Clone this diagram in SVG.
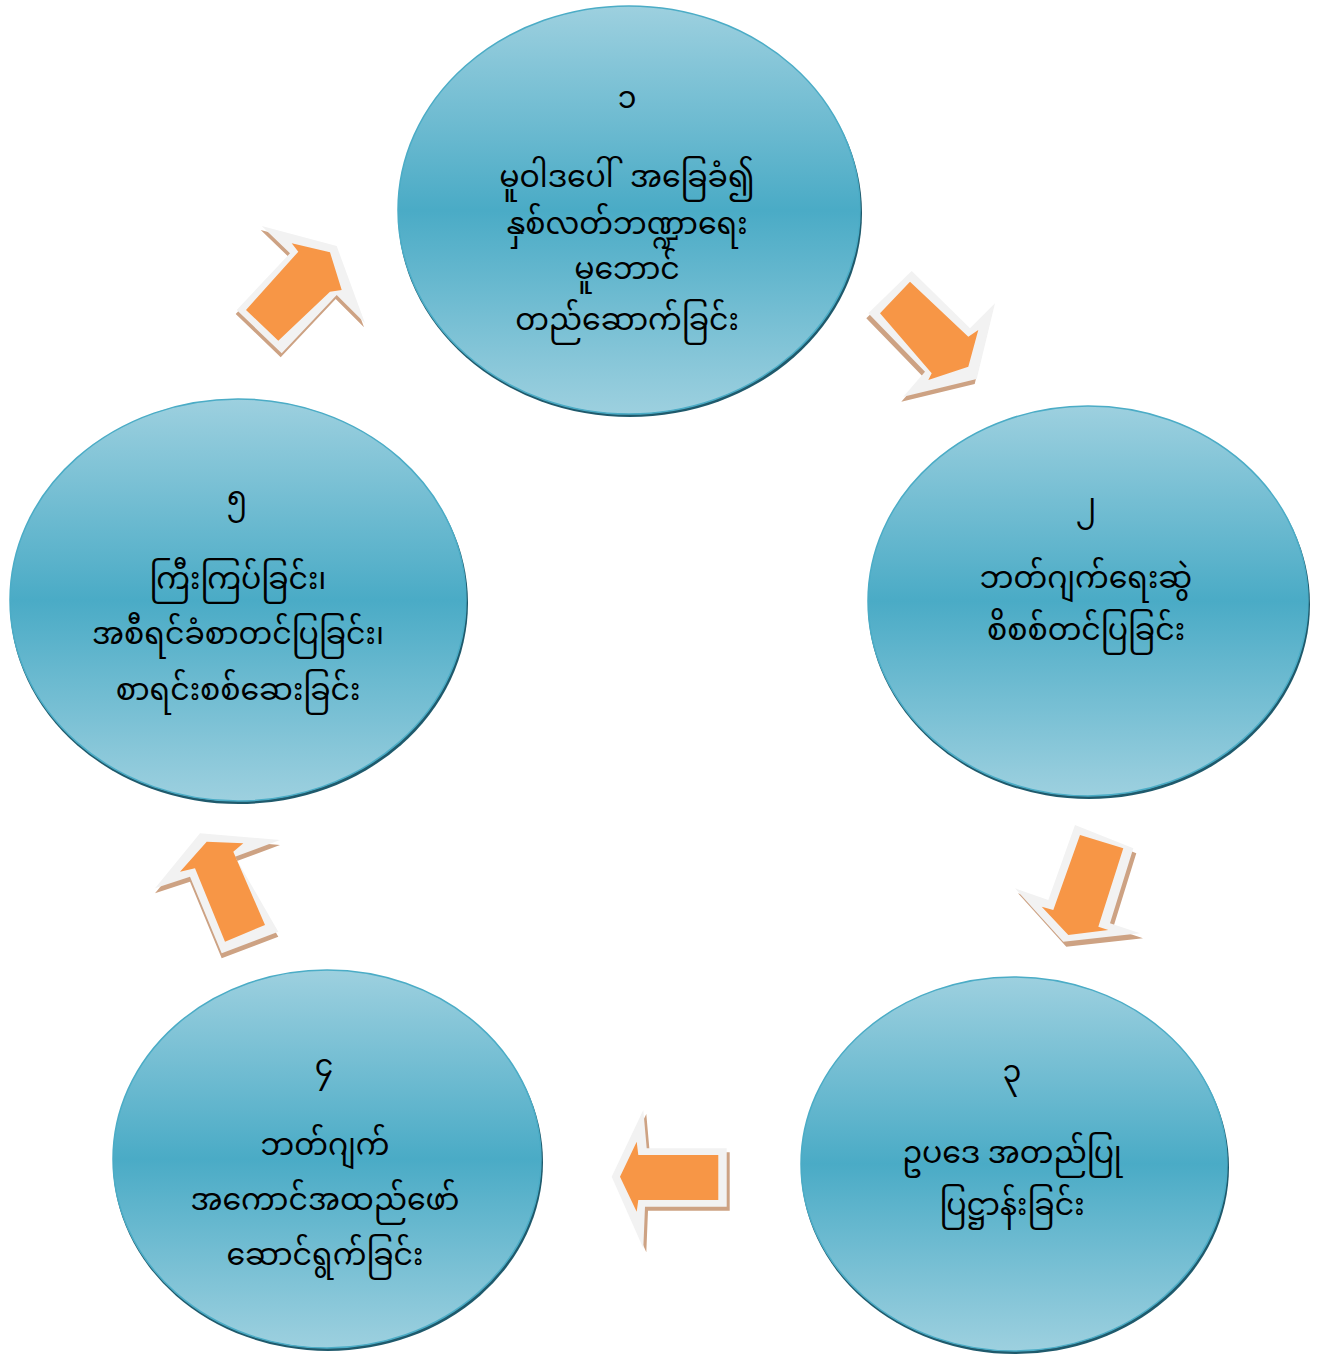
<svg xmlns="http://www.w3.org/2000/svg" width="1324" height="1355" viewBox="0 0 1324 1355">
<defs>
<linearGradient id="g" x1="0" y1="0" x2="0" y2="1">
<stop offset="0" stop-color="#9dd0df"/>
<stop offset="0.5" stop-color="#4aabc6"/>
<stop offset="1" stop-color="#9dd0df"/>
</linearGradient>
<style>
.sh{fill:#1f5a6c}
.el{fill:url(#g);stroke:#4bacc6;stroke-width:1.5}
.t{font-family:"Noto Sans Myanmar","Myanmar Text","Padauk","Noto Sans",sans-serif;font-size:30px;fill:#000;text-anchor:middle}
.as{fill:#cda283}
.aw{fill:#f2f2f2}
.ao{fill:#f79646}
</style>
</defs>
<rect width="1324" height="1355" fill="#fff"/>
<g id="connectors">
<g id="arrow1">
<polygon class="as" transform="translate(-1,4)" points="261.7,226 336.7,246 365,323.3 336.7,295 281.7,353.3 236.7,310 290,253.3"/>
<polygon class="aw" points="261.7,226 336.7,246 365,323.3 336.7,295 281.7,353.3 236.7,310 290,253.3"/>
<polygon class="ao" points="291.7,243.3 330,252.3 341.7,290 330,291.7 278.3,340.7 246,310 298.3,251.7"/>
</g>
<g id="arrow2">
<polygon class="as" transform="translate(-2,5)" points="911.7,271 970,328.3 995,303.3 976.7,379 903.3,396.7 925,371.7 868.3,313.3"/>
<polygon class="aw" points="911.7,271 970,328.3 995,303.3 976.7,379 903.3,396.7 925,371.7 868.3,313.3"/>
<polygon class="ao" points="910,281.7 968.3,336.7 978.3,330 968.3,366.7 928.3,380 931.7,373.3 880,313.3"/>
</g>
<g id="arrow3">
<polygon class="as" transform="translate(3,5)" points="1075,825 1133.3,848.3 1110,923.3 1140,933.3 1063.3,941.7 1015,888.3 1048.3,900"/>
<polygon class="aw" points="1075,825 1133.3,848.3 1110,923.3 1140,933.3 1063.3,941.7 1015,888.3 1048.3,900"/>
<polygon class="ao" points="1080,835 1123.3,848.3 1098.3,926.7 1108.3,930 1068.3,935 1041.7,906.7 1053.3,910"/>
</g>
<g id="arrow4">
<polygon class="as" transform="translate(3,4)" points="643.3,1110 646.7,1148.3 726.7,1148.3 726.7,1206.7 645,1206.7 643.3,1248.3 611.7,1176.7"/>
<polygon class="aw" points="643.3,1110 646.7,1148.3 726.7,1148.3 726.7,1206.7 645,1206.7 643.3,1248.3 611.7,1176.7"/>
<polygon class="ao" points="636.7,1141.7 638.3,1155 718.3,1155 718.3,1200 638.3,1200 636.7,1211.7 620,1176.7"/>
</g>
<g id="arrow5">
<polygon class="as" transform="translate(0,5)" points="200,833.3 280,840 235,856.7 278.3,931.7 221.7,953.3 190,876.7 155,888.3"/>
<polygon class="aw" points="200,833.3 280,840 235,856.7 278.3,931.7 221.7,953.3 190,876.7 155,888.3"/>
<polygon class="ao" points="206.7,841.7 243.3,843.3 233.3,851.7 265,925 225,941.7 195,868.3 180,871.7"/>
</g>
</g>
<g id="node1">
<ellipse class="sh" cx="630" cy="213" rx="232" ry="204"/>
<ellipse class="el" cx="629" cy="210" rx="231" ry="204"/>
<text class="t" x="627" y="108">၁</text>
<text class="t" x="627" y="187">မူဝါဒပေါ်<tspan dx="16">အခြေခံ၍</tspan></text>
<text class="t" x="627" y="234">နှစ်လတ်ဘဏ္ဍာရေး</text>
<text class="t" x="627" y="279">မူဘောင်</text>
<text class="t" x="627" y="330">တည်ဆောက်ခြင်း</text>
</g>
<g id="node2">
<ellipse class="sh" cx="1089" cy="604" rx="221" ry="195"/>
<ellipse class="el" cx="1088" cy="601" rx="220" ry="195"/>
<text class="t" x="1086" y="515">၂</text>
<text class="t" x="1086" y="588">ဘတ်ဂျက်ရေးဆွဲ</text>
<text class="t" x="1086" y="640">စိစစ်တင်ပြခြင်း</text>
</g>
<g id="node3">
<ellipse class="sh" cx="1015" cy="1167" rx="214" ry="187"/>
<ellipse class="el" cx="1014" cy="1164" rx="213" ry="187"/>
<text class="t" x="1012" y="1082">၃</text>
<text class="t" x="1012" y="1163">ဥပဒေ အတည်ပြု</text>
<text class="t" x="1012" y="1215">ပြဋ္ဌာန်းခြင်း</text>
</g>
<g id="node4">
<ellipse class="sh" cx="328" cy="1162" rx="215" ry="189"/>
<ellipse class="el" cx="327" cy="1159" rx="214" ry="189"/>
<text class="t" x="324" y="1076">၄</text>
<text class="t" x="325" y="1155">ဘတ်ဂျက်</text>
<text class="t" x="325" y="1210">အကောင်အထည်ဖော်</text>
<text class="t" x="325" y="1265">ဆောင်ရွက်ခြင်း</text>
</g>
<g id="node5">
<ellipse class="sh" cx="239" cy="603" rx="229" ry="201"/>
<ellipse class="el" cx="238" cy="600" rx="228" ry="201"/>
<text class="t" x="237" y="508">၅</text>
<text class="t" x="238" y="589">ကြီးကြပ်ခြင်း၊</text>
<text class="t" x="238" y="644">အစီရင်ခံစာတင်ပြခြင်း၊</text>
<text class="t" x="238" y="700">စာရင်းစစ်ဆေးခြင်း</text>
</g>
</svg>
